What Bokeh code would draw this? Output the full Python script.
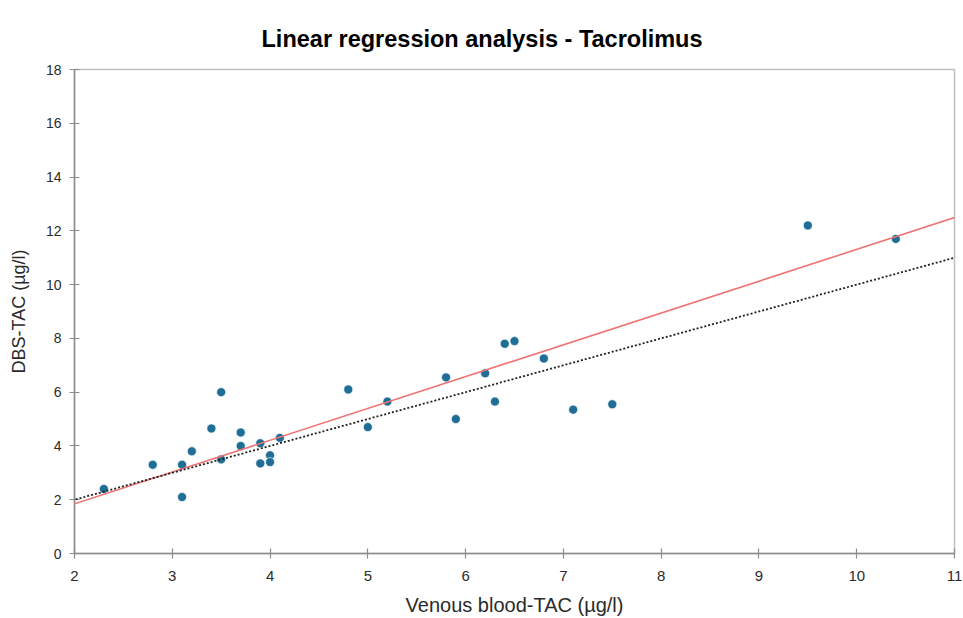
from bokeh.plotting import figure
from bokeh.models import Range1d, FixedTicker, Slope
from bokeh.embed import file_html
from bokeh.resources import INLINE

# data
venous_tac = [2.3, 2.8, 3.1, 3.1, 3.2, 3.4, 3.5, 3.5, 3.7, 3.7, 3.9, 3.9, 4.0, 4.0, 4.1,
              4.8, 5.0, 5.2, 5.8, 5.9, 6.2, 6.3, 6.4, 6.5, 6.8, 7.1, 7.5, 9.5, 10.4]
dbs_tac = [2.4, 3.3, 3.3, 2.1, 3.8, 4.65, 6.0, 3.5, 4.5, 4.0, 4.1, 3.35, 3.65, 3.4, 4.3,
           6.1, 4.7, 5.65, 6.55, 5.0, 6.7, 5.65, 7.8, 7.9, 7.25, 5.35, 5.55, 12.2, 11.7]
reg_slope = 1.183
reg_intercept = -0.52
identity_slope = 1.0
identity_intercept = 0.0
x_ticks = [2, 3, 4, 5, 6, 7, 8, 9, 10, 11]
y_ticks = [0, 2, 4, 6, 8, 10, 12, 14, 16, 18]

p = figure(width=963, height=618, output_backend="svg", toolbar_location=None,
           x_range=Range1d(2, 11), y_range=Range1d(0, 18),
           title="Linear regression analysis - Tacrolimus",
           min_border_left=74, min_border_right=9, min_border_top=69, min_border_bottom=65)

p.title.align = "left"
p.title.vertical_align = "top"
p.title.text_font = "Liberation Sans Narrow, Liberation Sans"
p.title.text_font_size = "23.5px"
p.title.text_font_style = "bold"
p.title.text_color = "#000000"
p.title.offset = 187
p.title.standoff = 31

p.grid.visible = False
p.outline_line_color = "#bfbfbf"
p.outline_line_width = 1.5

for ax in (p.xaxis[0], p.yaxis[0]):
    ax.axis_line_color = "#8c8c8c"
    ax.axis_line_width = 1.5
    ax.major_tick_line_color = "#8c8c8c"
    ax.major_tick_line_width = 1.2
    ax.major_tick_in = 5
    ax.major_tick_out = 5
    ax.minor_tick_line_color = None
    ax.major_label_text_color = "#2b2b2b"
    ax.axis_label_text_color = "#2b2b2b"
    ax.axis_label_text_font_style = "normal"

p.xaxis.ticker = FixedTicker(ticks=x_ticks)
p.yaxis.ticker = FixedTicker(ticks=y_ticks)

p.xaxis.major_label_text_font = "Liberation Sans Narrow, Liberation Sans"
p.xaxis.major_label_text_font_size = "15px"
p.xaxis.major_label_standoff = 12
p.xaxis.axis_label = "Venous blood-TAC (µg/l)"
p.xaxis.axis_label_text_font = "Liberation Sans Narrow, Liberation Sans"
p.xaxis.axis_label_text_font_size = "20px"
p.xaxis.axis_label_standoff = 10

p.yaxis.major_label_text_font = "Liberation Sans"
p.yaxis.major_label_text_font_size = "14px"
p.yaxis.major_label_standoff = 8
p.yaxis.axis_label = "DBS-TAC (µg/l)"
p.yaxis.axis_label_text_font = "Liberation Sans"
p.yaxis.axis_label_text_font_size = "18px"
p.yaxis.axis_label_standoff = 14

p.add_layout(Slope(gradient=reg_slope, y_intercept=reg_intercept,
                   line_color="#f07373", line_width=1.6))
p.add_layout(Slope(gradient=identity_slope, y_intercept=identity_intercept,
                   line_color="#222222", line_width=1.8, line_dash="2 2"))

p.scatter(venous_tac, dbs_tac, size=9, fill_color="#1f6e96", line_color="#ffffff",
          line_width=0.6)

open("out.html", "w").write(file_html(p, INLINE))
